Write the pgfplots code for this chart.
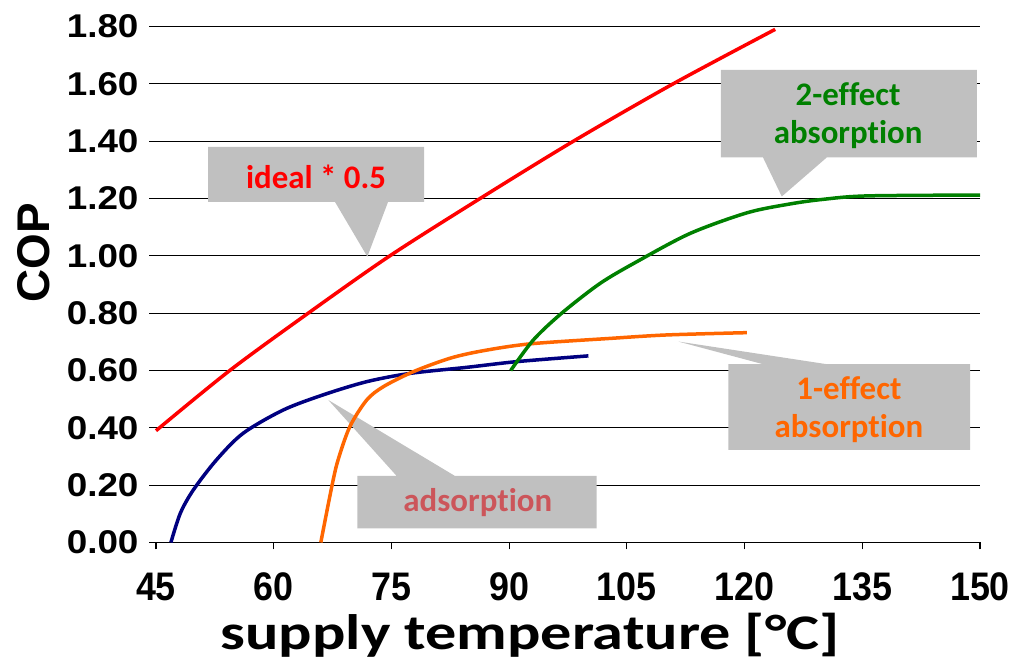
\documentclass[border=0pt]{standalone}
\usepackage{fontspec}
\setmainfont{Carlito}[RawFeature=-liga]
\newfontfamily\arial{Liberation Sans}
\newfontfamily\arialy{Liberation Sans}[FakeStretch=1.12]
\newfontfamily\arialx{Liberation Sans}[FakeStretch=0.9]
\newfontfamily\xlabfont{Carlito}[FakeStretch=1.25, RawFeature=-liga]
\usepackage{pgfplots}
\pgfplotsset{compat=1.18}
\definecolor{boxgrey}{RGB}{192,192,192}
\definecolor{cred}{RGB}{255,0,0}
\definecolor{cblue}{RGB}{0,0,128}
\definecolor{corange}{RGB}{255,102,0}
\definecolor{cgreen}{RGB}{0,128,0}
\definecolor{cads}{RGB}{204,85,90}
\begin{document}
\begin{tikzpicture}[x=1bp,y=1bp]
\useasboundingbox (-156,-120.5) rectangle (865,542.5);
\begin{axis}[
  at={(0,0)}, anchor=south west,
  scale only axis, width=824bp, height=516bp,
  xmin=45, xmax=150, ymin=0, ymax=1.8,
  xtick={45,60,75,90,105,120,135,150},
  ytick={0,0.2,0.4,0.6,0.8,1.0,1.2,1.4,1.6,1.8},
  axis x line*=bottom, axis y line*=left,
  y axis line style={draw=none},
  x axis line style={black, line width=1.3bp},
  ymajorgrids, grid style={black, line width=1.3bp},
  tick align=outside, major tick length=7bp,
  tick style={black, line width=1.2bp},
  /pgf/number format/assume math mode=true,
  yticklabel style={font=\arialy\bfseries\fontsize{33}{33}\selectfont, xshift=-7bp,
     /pgf/number format/.cd, fixed, fixed zerofill, precision=2},
  xticklabel style={font=\arialx\bfseries\fontsize{40}{40}\selectfont, yshift=-20bp},
  ylabel={\arial\bfseries COP},
  ylabel style={font=\fontsize{46}{46}\selectfont, at={(axis description cs:-0.148,0.561)}, anchor=center},
  xlabel={supply temperature [°C]},
  xlabel style={font=\xlabfont\bfseries\fontsize{50}{50}\selectfont, at={(axis description cs:0.454,0)}, anchor=center, yshift=-93bp},
  clip=false,
]
% callout boxes
\fill[boxgrey] (axis cs:51.63,1.380) -- (axis cs:79.15,1.380) -- (axis cs:79.15,1.188) -- (axis cs:74.57,1.188) -- (axis cs:71.93,0.997) -- (axis cs:67.81,1.188) -- (axis cs:51.63,1.188) -- cycle;
\fill[boxgrey] (axis cs:116.97,1.649) -- (axis cs:149.59,1.649) -- (axis cs:149.59,1.343) -- (axis cs:130.47,1.343) -- (axis cs:124.74,1.207) -- (axis cs:122.35,1.343) -- (axis cs:116.97,1.343) -- cycle;
\fill[boxgrey] (axis cs:117.93,0.622) -- (axis cs:122.35,0.622) -- (axis cs:111.56,0.701) -- (axis cs:130.47,0.622) -- (axis cs:148.73,0.622) -- (axis cs:148.73,0.323) -- (axis cs:117.93,0.323) -- cycle;
\fill[boxgrey] (axis cs:70.65,0.232) -- (axis cs:75.67,0.232) -- (axis cs:66.96,0.497) -- (axis cs:83.1,0.232) -- (axis cs:101.16,0.232) -- (axis cs:101.16,0.0495) -- (axis cs:70.65,0.0495) -- cycle;
\node[text=cred, font=\bfseries\fontsize{33}{38}\selectfont] at (axis cs:65.39,1.275) {ideal * 0.5};
\node[text=cgreen, align=center, font=\bfseries\fontsize{33}{38}\selectfont] at (axis cs:133.2,1.489) {2-effect\\absorption};
\node[text=corange, align=center, font=\bfseries\fontsize{33}{38}\selectfont] at (axis cs:133.3,0.462) {1-effect\\absorption};
\node[text=cads, font=\bfseries\fontsize{33}{38}\selectfont] at (axis cs:86.0,0.138) {adsorption};
% series
\addplot[cred, line width=3.5bp, no marks, smooth] coordinates {
(45,0.39) (54.4,0.60) (64.4,0.80) (74.8,1.00) (86.3,1.20) (98.2,1.40) (110.9,1.60) (123.9,1.79)};
\addplot[cblue, line width=3.5bp, no marks, smooth] coordinates {
(46.9,0.00) (48.1,0.102) (49.75,0.183) (52.7,0.288) (56.1,0.381) (61.2,0.462) (66.3,0.515) (71.85,0.561) (77.4,0.590) (84.6,0.611) (91.0,0.631) (100.1,0.651)};
\addplot[corange, line width=3.5bp, no marks, smooth] coordinates {
(66.0,0.00) (67.4,0.195) (68.2,0.288) (69.7,0.404) (71.85,0.497) (74.0,0.544) (77.8,0.596) (82.5,0.643) (86.7,0.669) (92.7,0.693) (102.9,0.712) (110.1,0.724) (120.3,0.732)};
\addplot[cgreen, line width=3.5bp, no marks, smooth] coordinates {
(90.2,0.60) (93.1,0.707) (96.7,0.80) (101.6,0.904) (106.3,0.98) (113.05,1.078) (120.3,1.150) (125.8,1.181) (130.0,1.197) (135.6,1.209) (150,1.212)};
\end{axis}
\end{tikzpicture}
\end{document}
